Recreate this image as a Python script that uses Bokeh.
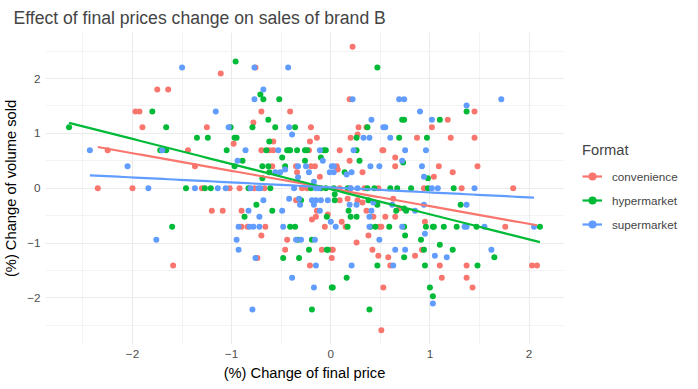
import numpy as np
from bokeh.plotting import figure
from bokeh.models import Legend, LegendItem, SingleIntervalTicker, Range1d
from bokeh.embed import file_html
from bokeh.resources import INLINE

# ---- data ----
conv_x = [-1.75, -1.64, -1.97, -1.93, -1.90, -2.25, -1.44, -1.37, -2.35, -2.00,
          -1.59,
          -0.76, -1.11, -0.70, -0.41, -0.78, -1.25, -0.20, -0.14, -0.98, -0.58, -0.21,
          -0.70, -0.62, -0.58, -0.22, -0.59, -0.35, -0.20, -0.16, -0.11, -0.34,
          -1.30, -1.02, -0.92, -0.77, -0.67, -0.29, -0.24,
          -0.35, -1.20, -1.09, -0.90, -0.14, -0.19, -0.15, -0.03, -0.90, -0.84, -0.66,
          -0.06, -0.70, -0.44, -0.46, -0.09, 0.01, -0.74, 0.01, -0.21,
          0.22, 0.19, 1.18, 0.28, 0.36, 1.02, 0.27, 0.20, 0.87, 1.21, 0.09, 0.52, 0.53,
          0.19, 0.65, 0.06, 0.65, 1.09, 0.07, 0.32, 1.04, 1.23,
          0.09, 0.20, 0.34, 0.48, 0.94, 1.32,
          0.09, 0.17, 0.27, 0.32, 0.63, 0.36, 0.69, 0.43, 0.55, 0.65, 0.11, 0.95, 0.15,
          0.49, 0.51, 0.38, 0.26, 0.02, 0.42, 0.92, 0.48, 0.58, 0.85, 0.60, 1.10, 1.37,
          1.12, 1.37, 0.53, 0.51,
          1.45, 1.45, 1.48, 1.84,
          1.76, 2.03, 2.08, 1.43]
conv_y = [1.80, 1.80, 1.40, 1.40, 1.11, 0.69, 0.69, 0.40, 0.00, 0.00,
          -1.41,
          2.20, 2.09, 1.40, 1.40, 1.20, 1.11, 1.11, 0.92, 0.81, 0.85, 0.85,
          0.69, 0.69, 0.69, 0.69, 0.40, 0.40, 0.40, 0.40, 0.21, 0.29,
          0.00, 0.00, 0.00, 0.00, 0.00, 0.00, 0.00,
          -0.22, -0.41, -0.41, -0.41, -0.41, -0.57, -0.52, -0.48, -0.70, -0.70, -0.70,
          -0.70, -0.86, -0.94, -1.12, -1.12, -1.12, -1.27, -1.27, -1.41,
          2.58, 1.62, 1.25, 1.11, 1.11, 1.11, 0.98, 0.92, 0.92, 0.92, 0.69, 0.69, 0.69,
          0.50, 0.56, 0.40, 0.40, 0.40, 0.34, 0.29, 0.21, 0.29,
          0.00, 0.00, 0.00, 0.00, 0.00, 0.00,
          -0.22, -0.19, -0.22, -0.26, -0.19, -0.41, -0.37, -0.52, -0.52, -0.52, -0.61, -0.61, -0.70,
          -0.70, -0.70, -0.86, -0.99, -1.12, -1.12, -1.12, -1.23, -1.26, -1.23, -1.41, -1.41, -1.41,
          -1.63, -1.63, -1.81, -2.59,
          1.40, 0.92, 0.40, 0.00,
          -0.70, -1.41, -1.41, -1.81]

hyper_x = [-1.80, -1.66, -2.64, -1.35, -1.72, -1.66, -1.46,
           -1.60,
           -0.96, -0.71, -0.68, -0.52, -0.63, -1.01, -0.79, -0.56, -0.36, -1.24, -0.97, -0.95,
           -0.62, -1.05, -0.65, -0.44, -0.42, -0.41, -0.34, -0.26, -0.24, -0.07, -0.05,
           -0.49, -0.89, -0.26, -0.10, -0.97, -0.69, -0.63, -0.46, -0.69, -0.62,
           -1.27, -1.21, -0.83, -0.61, -0.20, -0.10, -0.05,
           -0.30, -0.75, -0.59, -0.87, -0.04, -0.41, -0.36, -0.33, -0.19, -0.22, -0.04,
           -0.48, -0.32, 0.01, -0.19,
           0.47, 1.37, 0.72, 0.74, 1.10, 0.37, 0.26, 0.69, 0.97, 0.26, 0.29, 0.73, 0.14, 0.98,
           0.03, 0.17, 0.37, 0.44, 0.60, 0.67, 0.81, 0.98, 1.24,
           0.04, 0.04, 0.38, 0.47, 1.31, 0.18, 0.66, 0.74, 0.76, 0.20, 0.26, 0.17, 0.40,
           0.45, 0.59, 0.74, 0.96, 1.03, 1.04, 1.14, 1.27, 0.75, 0.91, 1.10, -0.03, 0.94,
           1.23, 0.74, 0.47, 0.95, 0.16, 0.02, 1.00, 1.03, 0.39,
           1.47, 2.11, 1.65, 1.48]
hyper_y = [1.40, 1.11, 1.11, 0.92, 0.69, 0.69, 0.00,
           -0.70,
           2.31, 1.71, 1.62, 1.62, 1.25, 1.11, 1.11, 1.11, 1.11, 0.92, 0.92, 0.92,
           0.85, 0.69, 0.69, 0.69, 0.69, 0.69, 0.69, 0.69, 0.69, 0.69, 0.69,
           0.56, 0.50, 0.50, 0.56, 0.40, 0.40, 0.40, 0.40, 0.18, 0.29,
           0.00, 0.00, 0.00, 0.00, 0.00, 0.00, 0.00,
           -0.22, -0.30, -0.41, -0.52, -0.52, -0.70, -0.70, -0.94, -0.94, -1.12, -1.12,
           -1.27, -1.27, -1.81, -2.21,
           2.20, 1.40, 1.25, 1.25, 1.25, 1.11, 0.92, 0.92, 0.92, 0.69, 0.50, 0.47, 0.29, 0.18,
           0.00, 0.00, 0.00, 0.00, 0.00, 0.00, 0.00, 0.00, 0.00,
           -0.11, -0.22, -0.22, -0.30, -0.30, -0.41, -0.41, -0.37, -0.41, -0.52, -0.52, -0.70, -0.70,
           -0.70, -0.70, -0.70, -0.70, -0.70, -0.70, -0.70, -0.70, -0.86, -0.94, -1.03, -1.12, -1.12,
           -1.12, -1.26, -1.41, -1.41, -1.63, -1.81, -1.81, -1.97, -2.21,
           -0.70, -0.70, -1.26, -1.41]

super_x = [-1.50, -2.43, -1.70, -2.05, -1.84, -1.37,
           -1.76,
           -0.77, -0.43, -0.68, -0.77, -1.16, -1.03, -0.42, -0.39, -0.86, -0.53, -0.11,
           -0.94, -0.08, -0.33, -0.25, 0.01, -0.46, -0.56, -0.51, -0.33, -0.22, -0.01, -0.17,
           -1.14, -1.06, -0.81, -0.73, -0.71, -0.37, -0.15, -0.12,
           -0.68, -0.42, -0.32, -0.31, -0.19, -0.15, -0.10, -0.03, -0.17, -0.83, -0.49, -0.11,
           -0.72, 0.00, -0.93, -0.82, -0.78, -0.72, -0.48, -0.95, -0.35, -0.30, -0.16, -0.93,
           -0.76, -0.15, -0.39, -0.17, -0.79,
           0.22, 0.69, 0.74, 1.37, 0.90, 0.41, 1.02, 0.53, 0.55, 0.33, 0.39, 0.60, 0.23, 0.75,
           0.96, 0.72, 0.03, 0.40, 0.49, 0.92, 0.03, 0.16, 0.21, 0.94,
           0.20, 0.27, 1.02, 1.08,
           0.19, 0.26, 0.43, 0.62, 0.94, 1.37, 0.41, 0.85, 0.39, 0.05, 0.39, 0.72, 1.35,
           0.95, 0.49, 0.65, 0.75, 1.05, 1.17, 0.21, 0.63, 1.03,
           1.72, 1.45,
           1.37, 1.55, 2.05, 1.62]
super_y = [2.20, 0.69, 0.69, 0.40, 0.00, 0.00,
           -0.94,
           2.20, 2.20, 1.80, 1.62, 1.40, 1.11, 1.11, 0.98, 0.69, 0.69, 0.69,
           0.50, 0.50, 0.40, 0.40, 0.40, 0.34, 0.29, 0.29, 0.20, 0.29, 0.29, 0.12,
           0.00, 0.00, 0.00, 0.00, 0.00, 0.00, 0.00, 0.00,
           -0.22, -0.19, -0.19, -0.30, -0.22, -0.22, -0.22, -0.22, -0.30, -0.41, -0.41, -0.41,
           -0.52, -0.61, -0.70, -0.70, -0.70, -0.70, -0.70, -0.94, -0.94, -0.94, -0.94, -1.12,
           -1.27, -1.41, -1.63, -1.81, -2.21,
           1.62, 1.62, 1.62, 1.51, 1.40, 1.25, 1.25, 1.11, 1.11, 0.92, 0.92, 0.92, 0.69, 0.69,
           0.69, 0.50, 0.40, 0.40, 0.40, 0.40, 0.29, 0.25, 0.29, 0.21,
           0.00, 0.00, 0.00, 0.00,
           -0.30, -0.30, -0.26, -0.30, -0.30, -0.30, -0.41, -0.41, -0.52, -0.70, -0.70, -0.70, -0.70,
           -0.83, -0.94, -1.12, -1.12, -1.23, -1.26, -1.41, -1.41, -2.10,
           1.62, 0.00,
           -0.70, -0.70, -0.70, -1.12]

series = [("convenience", conv_x, conv_y, "#F8766D"),
          ("hypermarket", hyper_x, hyper_y, "#00BA38"),
          ("supermarket", super_x, super_y, "#619CFF")]

all_x = np.array(conv_x + hyper_x + super_x)
all_y = np.array(conv_y + hyper_y + super_y)
dx = (all_x.max() - all_x.min()) * 0.05
dy = (all_y.max() - all_y.min()) * 0.05

FONT = "Liberation Sans"

p = figure(frame_width=518, frame_height=312, output_backend="svg", toolbar_location=None,
           x_range=Range1d(all_x.min() - dx, all_x.max() + dx),
           y_range=Range1d(all_y.min() - dy, all_y.max() + dy),
           min_border_left=35, min_border_right=0, min_border_top=24, min_border_bottom=37)

p.background_fill_color = "white"
p.border_fill_color = "white"
p.outline_line_color = None

p.title.text = "Effect of final prices change on sales of brand B"
p.title.text_font = FONT
p.title.text_font_size = "17.6px"
p.title.text_font_style = "normal"
p.title.align = "left"
p.title.offset = -32

for ax in (p.xaxis[0], p.yaxis[0]):
    ax.ticker = SingleIntervalTicker(interval=1, num_minor_ticks=2)
    ax.axis_line_color = None
    ax.major_tick_line_color = None
    ax.minor_tick_line_color = None
    ax.major_tick_out = 0
    ax.minor_tick_out = 0
    ax.major_label_text_font = FONT
    ax.major_label_text_font_size = "11.7px"
    ax.major_label_text_color = "#4D4D4D"
    ax.axis_label_text_font = FONT
    ax.axis_label_text_font_size = "14.7px"
    ax.axis_label_text_font_style = "normal"
    ax.axis_label_text_color = "black"

p.xaxis.axis_label = "(%) Change of final price"
p.yaxis.axis_label = "(%) Change of volume sold"
p.xaxis.major_label_standoff = 5
p.yaxis.major_label_standoff = 5
p.xaxis.axis_label_standoff = 4
p.yaxis.axis_label_standoff = 5

for g in (p.xgrid[0], p.ygrid[0]):
    g.grid_line_color = "#EBEBEB"
    g.grid_line_width = 1.1
    g.minor_grid_line_color = "#EBEBEB"
    g.minor_grid_line_width = 0.6

scat = {}
for name, xs, ys, col in series:
    scat[name] = p.scatter(xs, ys, size=6, color=col, line_width=0)

items = []
for name, xs, ys, col in series:
    xa = np.array(xs); ya = np.array(ys)
    b, a = np.polyfit(xa, ya, 1)
    lx = np.linspace(xa.min(), xa.max(), 80)
    lr = p.line(lx, a + b * lx, line_color=col, line_width=2.2)
    items.append(LegendItem(label=name, renderers=[scat[name], lr]))

legend = Legend(items=items, location="center_left")
legend.title = "Format"
legend.title_text_font = FONT
legend.title_text_font_size = "14.7px"
legend.title_text_font_style = "normal"
legend.title_standoff = 8
legend.label_text_font = FONT
legend.label_text_font_size = "11.7px"
legend.border_line_color = None
legend.background_fill_alpha = 0
legend.margin = 19
legend.padding = 10
legend.glyph_width = 20
legend.glyph_height = 20
legend.spacing = 4
legend.label_standoff = 10
p.add_layout(legend, "right")

open("out.html", "w").write(file_html(p, INLINE))
